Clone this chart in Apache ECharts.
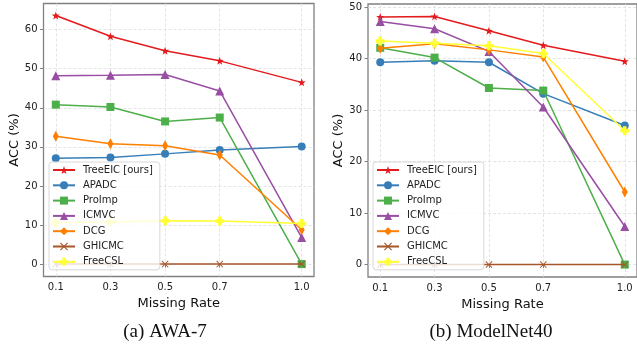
<!DOCTYPE html>
<html>
<head>
<meta charset="utf-8">
<script src="https://cdn.jsdelivr.net/npm/echarts@6/dist/echarts.min.js"></script>
<style>
  html, body { margin: 0; padding: 0; background: #fff; }
  #chart { width: 637px; height: 349px; }
</style>
</head>
<body>
<div id="chart"></div>
<script>
// missing rates on the x axis
const missingRates = [0.1, 0.3, 0.5, 0.7, 1.0];
const methods = ["TreeEIC [ours]", "APADC", "ProImp", "ICMVC", "DCG", "GHICMC", "FreeCSL"];
const yTicksA = [0, 10, 20, 30, 40, 50, 60];
const yTicksB = [0, 10, 20, 30, 40, 50];

// (a) AWA-7 ACC values
const awaTreeEIC = [63.6, 58.3, 54.6, 52.0, 46.5];
const awaAPADC = [27.1, 27.3, 28.2, 29.2, 30.1];
const awaProImp = [40.8, 40.2, 36.5, 37.5, 0.0];
const awaICMVC = [48.2, 48.3, 48.5, 44.3, 6.8];
const awaDCG = [32.7, 30.8, 30.3, 27.9, 8.8];
const awaGHICMC = [0, 0, 0, 0, 0];
const awaFreeCSL = [10.6, 10.8, 11.1, 11.0, 10.4];

// (b) ModelNet40 ACC values
const mnTreeEIC = [48.1, 48.2, 45.4, 42.6, 39.5];
const mnAPADC = [39.3, 39.6, 39.3, 33.2, 27.0];
const mnProImp = [42.1, 40.2, 34.3, 33.8, 0.0];
const mnICMVC = [47.2, 45.8, 41.4, 30.6, 7.4];
const mnDCG = [42.0, 42.9, 41.7, 40.3, 14.1];
const mnGHICMC = [0, 0, 0, 0, 0];
const mnFreeCSL = [43.4, 43.0, 42.5, 41.0, 26.0];

const colors = ["#e41a1c", "#377eb8", "#4daf4a", "#984ea3", "#ff7f00", "#a65628", "#ffff33"];
const STAR = "path://M0,-10L2.35,-3.24L9.51,-3.09L3.8,1.24L5.88,8.09L0,4L-5.88,8.09L-3.8,1.24L-9.51,-3.09L-2.35,-3.24Z";
const CROSS = "path://M1,0L5,4L9,0L10,1L6,5L10,9L9,10L5,6L1,10L0,9L4,5L0,1Z";
const PLUS = "path://M3,0H7V3H10V7H7V10H3V7H0V3H3Z";
const symbols = [STAR, "circle", "rect", "triangle", "diamond", CROSS, PLUS];
const symbolSizes = [8, 8, 8, 9, [6, 11], 7, 9];

const dataA = [awaTreeEIC, awaAPADC, awaProImp, awaICMVC, awaDCG, awaGHICMC, awaFreeCSL];
const dataB = [mnTreeEIC, mnAPADC, mnProImp, mnICMVC, mnDCG, mnGHICMC, mnFreeCSL];

const font = "DejaVu Sans";
const spine = "#808080";

function makeSeries(data, idx) {
  return data.map((vals, i) => ({
    name: methods[i],
    type: "line",
    xAxisIndex: idx,
    yAxisIndex: idx,
    data: vals.map((v, k) => [missingRates[k], v]),
    symbol: symbols[i],
    symbolSize: symbolSizes[i],
    showSymbol: true,
    itemStyle: { color: colors[i] },
    lineStyle: { color: colors[i], width: 1.5 },
    emphasis: { disabled: true },
    animation: false,
    z: 2 + i * 0.01
  }));
}

function xAxis(idx) {
  return {
    type: "value",
    gridIndex: idx,
    min: 0.055,
    max: 1.045,
    name: "Missing Rate",
    nameLocation: "middle",
    nameGap: 18,
    nameTextStyle: { fontFamily: font, fontSize: 13, color: "#111" },
    axisLine: { show: false },
    axisTick: { show: true, length: 3.5, customValues: missingRates, lineStyle: { color: spine } },
    axisLabel: {
      customValues: missingRates,
      margin: 6,
      fontFamily: font, fontSize: 10, color: "#222",
      formatter: (v) => v.toFixed(1)
    },
    splitLine: { show: true, lineStyle: { color: "#dddddd", type: [3, 2], width: 0.8 } }
  };
}

function yAxis(idx, min, max, ticks) {
  return {
    type: "value",
    gridIndex: idx,
    min: min,
    max: max,
    name: "ACC (%)",
    nameLocation: "middle",
    nameGap: 22,
    nameTextStyle: { fontFamily: font, fontSize: 13, color: "#111" },
    axisLine: { show: false },
    axisTick: { show: true, length: 3.5, customValues: ticks, lineStyle: { color: spine } },
    axisLabel: {
      customValues: ticks,
      margin: 6,
      fontFamily: font, fontSize: 10, color: "#222"
    },
    splitLine: { show: true, lineStyle: { color: "#dddddd", type: [3, 2], width: 0.8 } }
  };
}

function legend(left) {
  return {
    orient: "vertical",
    left: left,
    top: 162,
    data: methods,
    itemWidth: 22,
    itemHeight: 10,
    itemGap: 5.3,
    padding: [3, 7, 3, 3],
    backgroundColor: "rgba(255,255,255,0.8)",
    borderColor: "#d8d8d8",
    borderWidth: 1,
    borderRadius: 3,
    textStyle: { fontFamily: font, fontSize: 10, color: "#222", padding: [0, 0, 0, 3] },
    selectedMode: false
  };
}

const chart = echarts.init(document.getElementById("chart"), null, { renderer: "canvas" });
chart.setOption({
  backgroundColor: "#fff",
  animation: false,
  title: [
    { text: "(a) AWA-7", left: 160, top: 318, textAlign: "center",
      textStyle: { fontFamily: "Liberation Serif", fontWeight: "normal", fontSize: 19, color: "#111" } },
    { text: "(b) ModelNet40", left: 486, top: 318, textAlign: "center",
      textStyle: { fontFamily: "Liberation Serif", fontWeight: "normal", fontSize: 19, color: "#111" } }
  ],
  grid: [
    { left: 43.5, top: 3.5, width: 270.5, height: 273, show: true, borderColor: spine, borderWidth: 1.3, containLabel: false },
    { left: 368, top: 4, width: 272, height: 273, show: true, borderColor: spine, borderWidth: 1.3, containLabel: false }
  ],
  xAxis: [xAxis(0), xAxis(1)],
  yAxis: [yAxis(0, -3.175, 66.675, yTicksA), yAxis(1, -2.41, 50.61, yTicksB)],
  legend: [
    Object.assign(legend(49), { id: "la" }),
    Object.assign(legend(373), { id: "lb" })
  ],
  series: makeSeries(dataA, 0).concat(makeSeries(dataB, 1))
});
</script>
</body>
</html>
